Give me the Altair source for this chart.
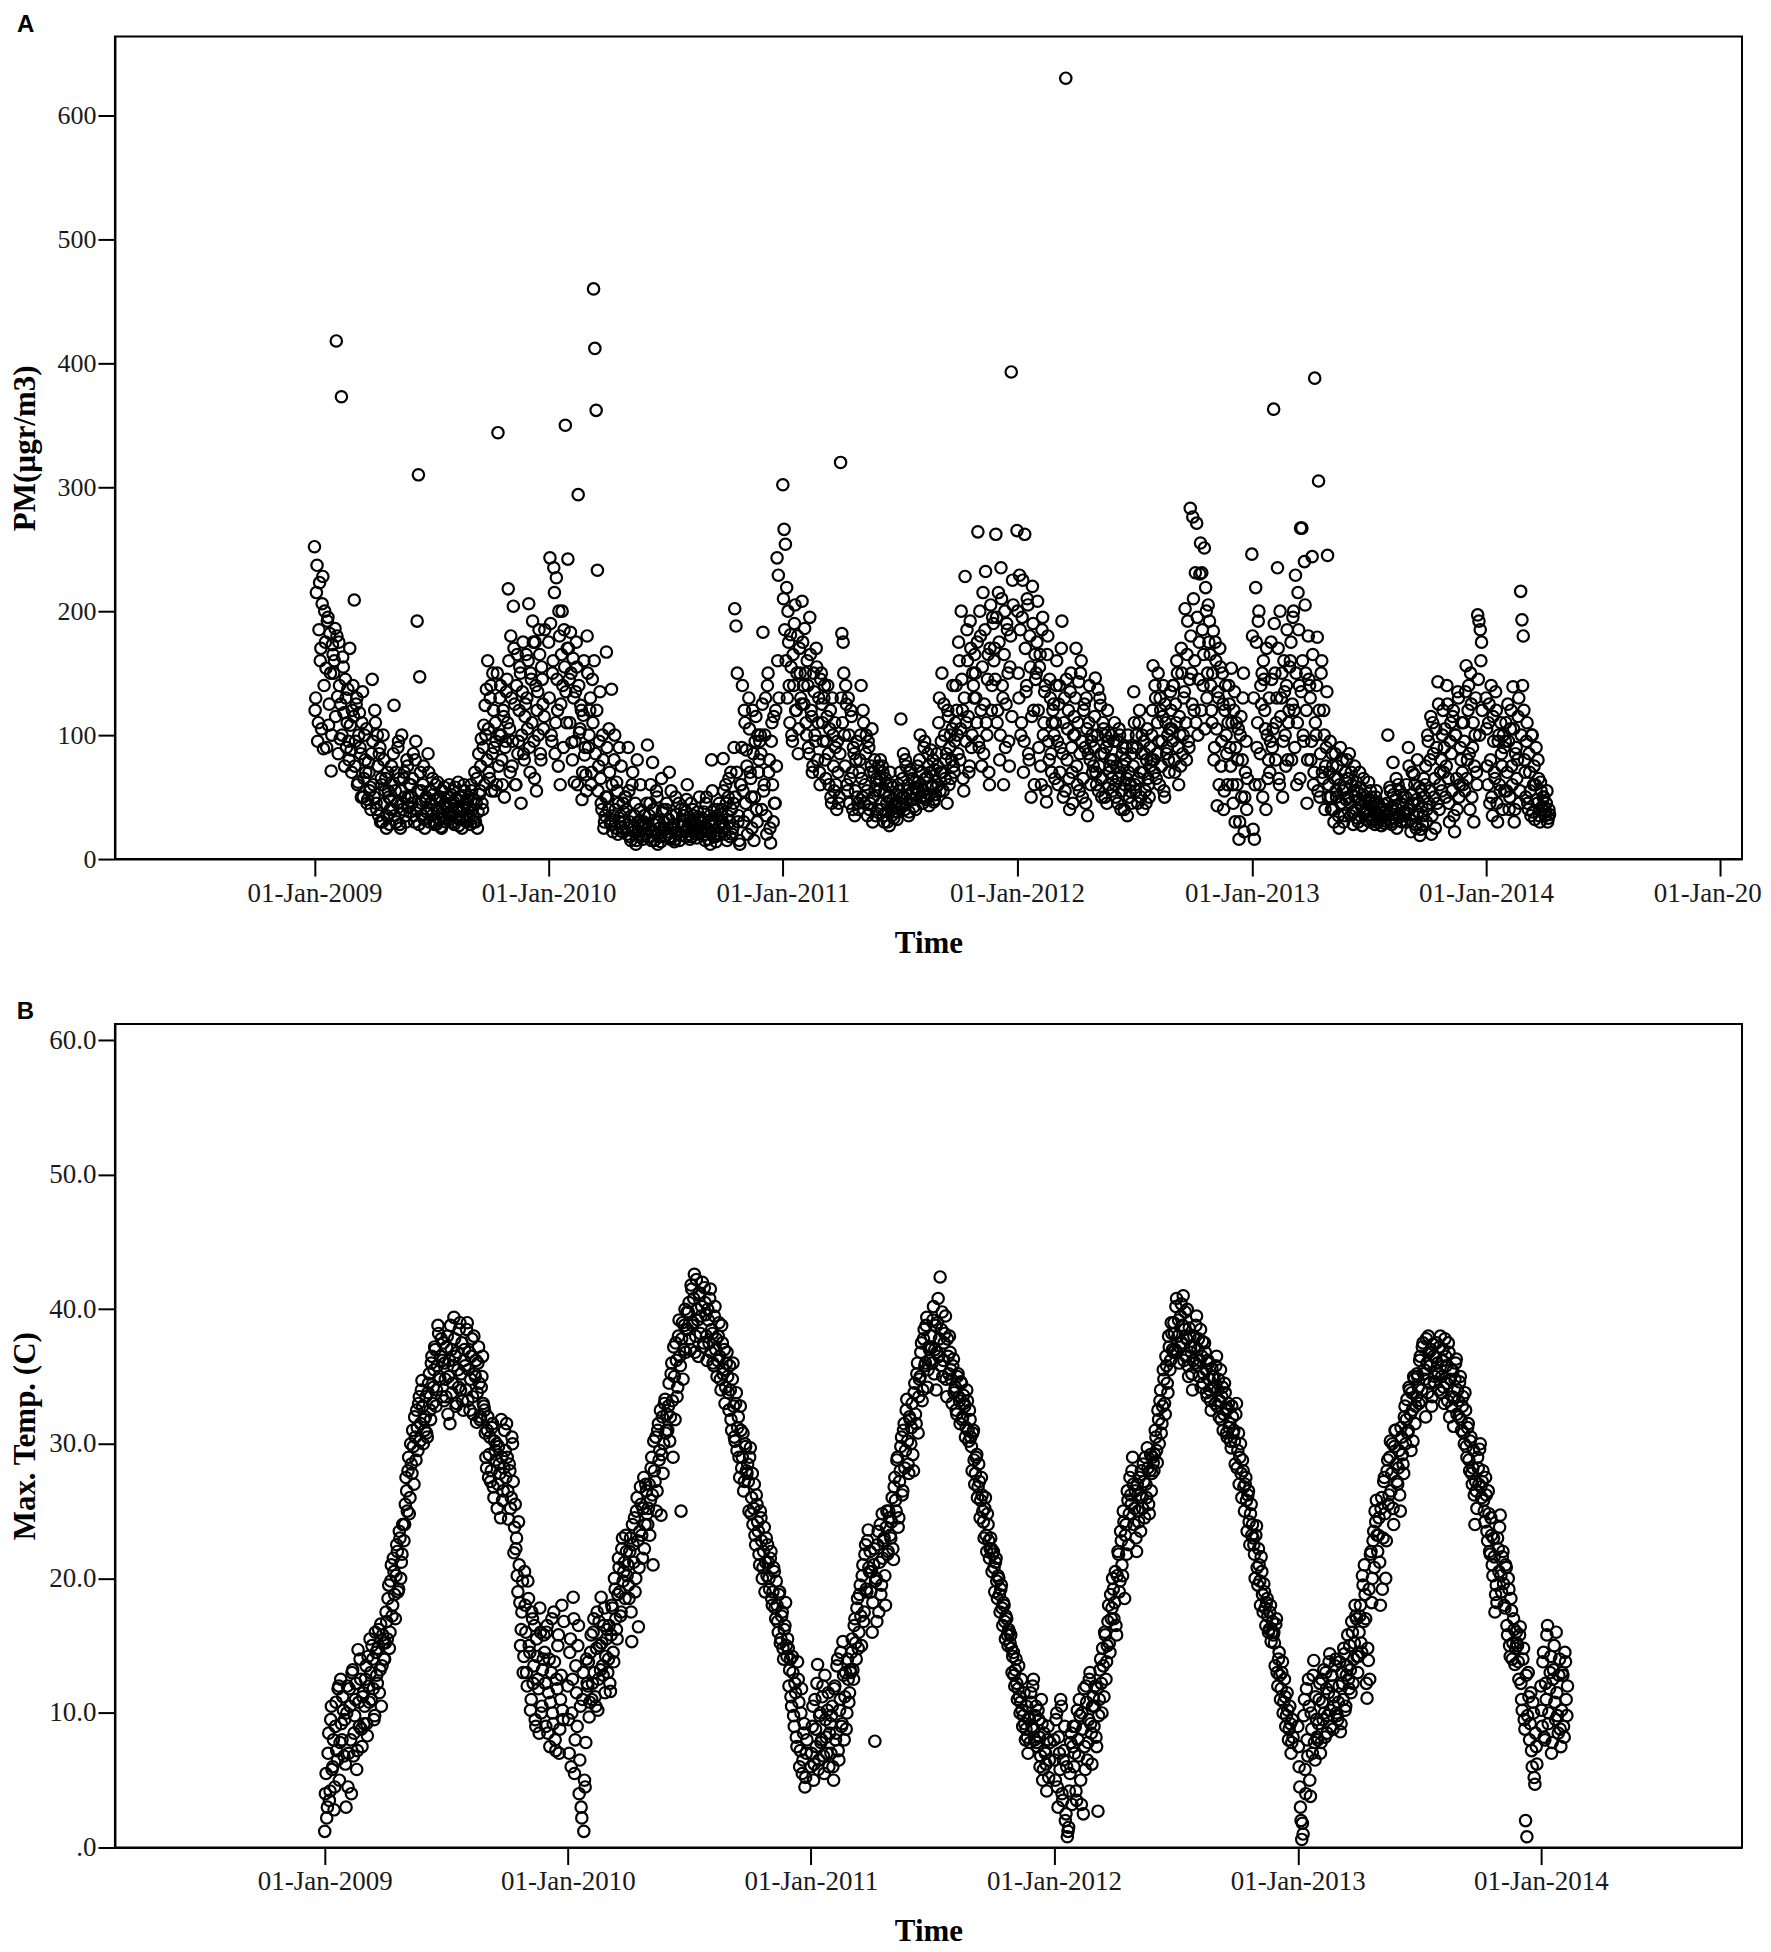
import altair as alt
import pandas as pd
from datetime import date, timedelta

# ============ Panel A: PM (µg/m3), daily readings; 15 per month on even days + 15 on odd days ============
pm_2009 = [
    [252, 130, 237, 110, 223, 170, 206, 89, 200, 154, 192, 108, 182, 71, 173],
    [150, 186, 418, 131, 175, 97, 373, 163, 118, 145, 90, 137, 80, 108, 70],
    [140, 209, 95, 130, 62, 118, 85, 110, 50, 100, 70, 45, 78, 55, 40],
    [145, 60, 120, 45, 100, 35, 90, 65, 30, 80, 55, 25, 70, 50, 40],
    [75, 40, 124, 55, 30, 90, 65, 25, 100, 45, 70, 35, 80, 50, 60],
    [60, 45, 85, 30, 95, 192, 310, 147, 55, 35, 75, 25, 50, 40, 70],
    [55, 40, 65, 30, 48, 28, 62, 38, 50, 25, 35, 58, 45, 32, 42],
    [60, 45, 35, 55, 28, 48, 40, 62, 32, 50, 25, 42, 55, 36, 45],
    [50, 35, 60, 40, 30, 70, 45, 25, 85, 55, 97, 40, 108, 124, 137],
    [160, 70, 130, 55, 150, 90, 110, 60, 344, 100, 140, 80, 120, 50, 95],
    [145, 218, 105, 180, 75, 204, 125, 60, 165, 95, 155, 45, 135, 85, 115],
    [165, 105, 206, 70, 145, 192, 95, 175, 55, 135, 185, 85, 155, 125, 115],
]
pm_2009_odd = [
    [120, 215, 95, 185, 160, 105, 228, 140, 175, 90, 195, 125, 150, 100, 165],
    [160, 115, 180, 85, 140, 125, 100, 155, 75, 130, 110, 95, 170, 88, 120],
    [115, 75, 125, 60, 100, 90, 50, 135, 65, 80, 105, 48, 70, 58, 85],
    [95, 50, 110, 40, 75, 85, 30, 60, 100, 45, 65, 35, 55, 28, 48],
    [60, 85, 35, 70, 45, 95, 28, 55, 40, 65, 50, 30, 75, 42, 38],
    [50, 65, 35, 80, 40, 55, 28, 70, 45, 60, 32, 48, 38, 85, 30],
    [45, 35, 52, 28, 60, 40, 33, 48, 26, 55, 38, 44, 30, 50, 36],
    [38, 52, 30, 46, 58, 34, 42, 27, 50, 38, 33, 60, 44, 30, 48],
    [42, 28, 55, 35, 48, 30, 65, 38, 52, 75, 45, 90, 60, 100, 80],
    [105, 65, 140, 85, 120, 55, 95, 150, 75, 130, 100, 60, 115, 90, 135],
    [110, 160, 70, 130, 95, 170, 60, 140, 85, 120, 150, 100, 175, 80, 125],
    [130, 160, 90, 150, 110, 175, 65, 140, 120, 100, 165, 80, 145, 105, 185],
]
pm_2010 = [
    [175, 243, 100, 150, 235, 85, 227, 120, 200, 60, 165, 140, 185, 350, 110],
    [242, 145, 183, 94, 162, 62, 135, 155, 294, 102, 124, 48, 116, 84, 68],
    [180, 90, 120, 60, 145, 460, 412, 362, 233, 75, 135, 45, 100, 25, 35],
    [167, 50, 105, 30, 137, 22, 80, 40, 62, 20, 90, 35, 25, 45, 30],
    [50, 20, 90, 30, 15, 60, 25, 35, 12, 80, 22, 40, 18, 28, 30],
    [35, 20, 92, 25, 45, 15, 78, 28, 22, 55, 12, 30, 18, 65, 40],
    [30, 18, 45, 22, 70, 16, 35, 25, 14, 50, 20, 28, 15, 40, 30],
    [28, 40, 18, 60, 25, 16, 45, 22, 35, 30, 20, 38, 26, 32, 22],
    [25, 38, 15, 50, 22, 30, 12, 80, 28, 40, 18, 35, 20, 45, 30],
    [40, 81, 25, 60, 15, 50, 30, 70, 20, 45, 202, 188, 150, 35, 12],
    [60, 140, 30, 110, 88, 20, 130, 70, 50, 120, 15, 95, 40, 100, 80],
    [100, 40, 183, 60, 130, 20, 150, 80, 13, 110, 30, 45, 120, 243, 229],
]
pm_2010_odd = [
    [130, 190, 95, 160, 215, 110, 145, 75, 180, 125, 200, 90, 155, 135, 170],
    [170, 110, 150, 80, 130, 95, 175, 60, 140, 105, 120, 70, 160, 90, 55],
    [150, 100, 130, 70, 110, 160, 85, 120, 55, 95, 65, 40, 80, 30, 50],
    [90, 40, 70, 28, 60, 35, 100, 25, 55, 45, 30, 75, 22, 38, 50],
    [40, 25, 55, 18, 35, 70, 22, 45, 15, 30, 20, 60, 25, 16, 35],
    [28, 45, 18, 35, 60, 22, 40, 15, 30, 50, 20, 25, 14, 38, 24],
    [25, 40, 20, 32, 18, 55, 24, 28, 16, 36, 22, 45, 19, 26, 35],
    [35, 22, 48, 26, 20, 30, 18, 40, 24, 28, 17, 34, 50, 21, 30],
    [32, 20, 45, 25, 16, 35, 22, 55, 18, 30, 14, 40, 26, 20, 36],
    [30, 55, 20, 45, 35, 65, 18, 40, 25, 90, 50, 70, 30, 15, 60],
    [90, 55, 120, 45, 75, 35, 105, 65, 25, 85, 50, 115, 30, 70, 95],
    [85, 125, 55, 100, 35, 140, 70, 25, 95, 60, 115, 45, 75, 160, 130],
]
pm_2011 = [
    [302, 266, 254, 219, 200, 140, 181, 100, 165, 190, 120, 150, 85, 170, 130],
    [208, 140, 186, 110, 160, 90, 195, 120, 70, 150, 100, 170, 80, 130, 60],
    [150, 110, 130, 80, 95, 140, 60, 120, 45, 100, 55, 90, 40, 70, 50],
    [320, 182, 175, 100, 140, 60, 130, 45, 120, 70, 90, 35, 80, 50, 40],
    [80, 140, 50, 110, 60, 100, 35, 90, 45, 75, 30, 70, 55, 65, 40],
    [55, 80, 40, 70, 30, 65, 45, 50, 27, 60, 35, 48, 42, 38, 32],
    [60, 45, 113, 50, 85, 40, 75, 55, 35, 70, 48, 65, 42, 58, 52],
    [75, 55, 100, 60, 45, 90, 65, 50, 85, 43, 70, 58, 80, 48, 52],
    [85, 60, 130, 70, 150, 55, 100, 80, 45, 115, 90, 65, 105, 75, 95],
    [140, 100, 175, 80, 200, 120, 55, 228, 110, 160, 70, 192, 90, 150, 130],
    [150, 110, 264, 90, 180, 75, 215, 125, 232, 100, 165, 60, 205, 140, 190],
    [170, 262, 110, 215, 80, 235, 140, 60, 200, 125, 185, 95, 155, 393, 225],
]
pm_2011_odd = [
    [210, 185, 160, 130, 175, 110, 155, 95, 140, 205, 120, 180, 105, 150, 125],
    [175, 125, 150, 100, 140, 85, 165, 115, 75, 135, 95, 155, 110, 70, 145],
    [125, 95, 140, 65, 115, 85, 105, 50, 130, 75, 110, 60, 95, 45, 85],
    [130, 110, 150, 75, 125, 55, 100, 65, 115, 40, 85, 55, 95, 45, 70],
    [100, 65, 120, 45, 85, 55, 95, 40, 70, 105, 50, 80, 35, 60, 75],
    [65, 45, 75, 35, 55, 60, 30, 50, 70, 40, 58, 33, 45, 52, 38],
    [55, 70, 42, 65, 50, 80, 45, 60, 38, 72, 54, 48, 62, 40, 57],
    [62, 80, 50, 70, 55, 95, 48, 66, 75, 52, 88, 60, 46, 72, 58],
    [75, 110, 55, 95, 70, 125, 65, 85, 120, 60, 100, 80, 140, 70, 110],
    [120, 85, 160, 105, 145, 65, 130, 95, 185, 115, 75, 170, 100, 140, 165],
    [130, 175, 95, 200, 120, 155, 85, 185, 110, 145, 70, 170, 120, 195, 160],
    [145, 195, 120, 175, 100, 210, 130, 165, 90, 190, 150, 75, 180, 115, 205],
]
pm_2012 = [
    [265, 150, 229, 100, 195, 70, 262, 135, 210, 85, 180, 50, 220, 120, 165],
    [150, 208, 90, 165, 60, 195, 110, 140, 46, 180, 80, 130, 70, 120, 100],
    [110, 160, 60, 140, 90, 192, 50, 130, 630, 80, 120, 40, 150, 70, 100],
    [100, 170, 60, 143, 85, 160, 50, 120, 90, 130, 35, 110, 80, 95, 70],
    [90, 146, 60, 137, 75, 124, 50, 110, 85, 100, 45, 95, 70, 80, 65],
    [80, 110, 50, 95, 65, 100, 40, 85, 75, 60, 90, 35, 70, 55, 45],
    [90, 135, 60, 100, 45, 110, 70, 85, 40, 95, 55, 80, 65, 50, 75],
    [100, 156, 70, 130, 85, 150, 60, 120, 95, 140, 50, 110, 90, 80, 105],
    [120, 95, 140, 70, 110, 150, 60, 100, 170, 85, 130, 202, 80, 192, 90],
    [283, 150, 276, 120, 231, 271, 100, 175, 255, 231, 140, 251, 219, 130, 205],
    [192, 140, 110, 184, 90, 160, 43, 130, 170, 75, 150, 40, 120, 100, 60],
    [140, 90, 154, 60, 120, 30, 110, 80, 16, 100, 50, 130, 22, 70, 40],
]
pm_2012_odd = [
    [200, 130, 185, 110, 225, 95, 170, 140, 205, 80, 155, 115, 190, 60, 145],
    [175, 120, 155, 75, 185, 100, 135, 55, 165, 95, 145, 85, 110, 125, 65],
    [140, 95, 125, 70, 170, 85, 110, 55, 145, 105, 65, 135, 90, 45, 115],
    [130, 75, 110, 55, 150, 95, 65, 125, 45, 105, 85, 140, 60, 100, 75],
    [115, 70, 100, 55, 130, 85, 65, 105, 50, 90, 120, 60, 75, 100, 55],
    [95, 60, 75, 45, 105, 70, 55, 90, 40, 80, 65, 100, 50, 60, 85],
    [75, 110, 55, 90, 65, 120, 50, 100, 70, 85, 45, 105, 60, 90, 80],
    [120, 80, 140, 65, 110, 95, 130, 75, 115, 55, 125, 85, 100, 70, 135],
    [105, 140, 80, 125, 160, 90, 115, 75, 150, 100, 135, 110, 165, 95, 145],
    [180, 125, 210, 160, 110, 195, 145, 230, 120, 185, 165, 105, 200, 150, 175],
    [165, 120, 150, 80, 175, 105, 135, 60, 155, 95, 125, 55, 140, 85, 110],
    [125, 75, 110, 45, 135, 90, 60, 105, 30, 115, 80, 150, 50, 95, 65],
]
pm_2013 = [
    [246, 24, 16, 219, 90, 192, 60, 140, 150, 160, 120, 40, 100, 80, 70],
    [175, 90, 363, 150, 110, 235, 65, 200, 130, 50, 160, 100, 140, 80, 120],
    [160, 80, 195, 120, 229, 60, 215, 140, 267, 267, 100, 240, 150, 45, 180],
    [140, 80, 244, 60, 388, 100, 179, 305, 50, 150, 70, 120, 40, 90, 245],
    [60, 95, 40, 75, 30, 85, 50, 65, 25, 90, 45, 55, 35, 70, 80],
    [50, 85, 35, 60, 28, 75, 40, 55, 30, 70, 45, 27, 65, 38, 32],
    [40, 62, 30, 50, 34, 45, 28, 55, 36, 32, 42, 27, 38, 29, 35],
    [40, 100, 32, 55, 28, 78, 36, 48, 25, 60, 34, 45, 30, 50, 38],
    [50, 30, 90, 40, 22, 70, 35, 60, 25, 80, 45, 19, 55, 28, 65],
    [60, 30, 100, 45, 80, 20, 110, 50, 25, 90, 143, 40, 70, 55, 120],
    [90, 50, 140, 65, 30, 110, 55, 120, 22, 100, 40, 130, 60, 80, 70],
    [110, 55, 156, 80, 140, 40, 125, 90, 30, 100, 70, 197, 192, 185, 175],
]
pm_2013_odd = [
    [180, 130, 60, 175, 110, 200, 85, 125, 50, 145, 105, 170, 65, 130, 95],
    [145, 105, 190, 80, 130, 170, 60, 115, 150, 95, 135, 75, 185, 110, 155],
    [175, 125, 200, 90, 150, 110, 185, 65, 135, 160, 95, 205, 120, 80, 145],
    [130, 95, 165, 70, 110, 140, 55, 120, 85, 160, 65, 100, 75, 135, 50],
    [70, 50, 85, 40, 65, 55, 75, 35, 60, 45, 80, 30, 58, 48, 65],
    [65, 45, 70, 38, 55, 50, 62, 33, 48, 58, 42, 52, 36, 46, 40],
    [48, 36, 55, 32, 42, 38, 50, 30, 45, 35, 40, 33, 44, 31, 39],
    [45, 35, 58, 30, 42, 52, 33, 65, 40, 36, 55, 31, 44, 38, 35],
    [60, 40, 75, 32, 52, 45, 68, 28, 48, 38, 58, 24, 42, 35, 50],
    [75, 40, 95, 55, 115, 35, 85, 65, 105, 45, 125, 60, 80, 100, 70],
    [105, 75, 125, 45, 95, 85, 115, 35, 100, 65, 135, 50, 90, 110, 60],
    [95, 135, 65, 120, 85, 150, 50, 110, 75, 130, 60, 145, 100, 160, 120],
]
pm_2014 = [
    [130, 75, 110, 45, 140, 35, 95, 65, 120, 30, 100, 55, 85, 40, 90],
    [95, 55, 125, 40, 105, 75, 139, 30, 85, 65, 115, 45, 216, 193, 180],
    [80, 50, 110, 40, 70, 35, 100, 60, 32, 90, 45, 65, 30, 55, 40],
    [50, 35, 45, 30, 40],
]
pm_2014_odd = [
    [105, 60, 125, 80, 50, 115, 70, 135, 45, 95, 60, 110, 75, 100, 55],
    [110, 70, 95, 50, 120, 60, 105, 40, 90, 80, 130, 55, 100, 140, 120],
    [70, 95, 45, 85, 55, 100, 38, 75, 60, 48, 80, 35, 62, 42, 50],
    [42, 38, 55, 33, 36],
]

# ============ Panel B: Max. Temp. (C), daily readings; 15 per month on even days + 15 on odd days ============
t_2009 = [
    [1.2, 5.5, 3.0, 8.5, 4.2, 10.5, 6.0, 2.8, 9.0, 7.2, 11.8, 5.0, 12.5, 8.0, 10.2],
    [9.5, 3.0, 12.0, 7.0, 10.5, 4.0, 13.2, 8.5, 11.0, 5.8, 14.7, 9.0, 12.5, 7.5, 11.5],
    [10.5, 13.5, 8.3, 12.0, 15.5, 11.0, 14.0, 9.5, 16.0, 12.8, 14.8, 11.5, 16.6, 13.5, 15.2],
    [14.0, 17.5, 15.5, 19.5, 16.0, 21.0, 18.0, 20.5, 17.0, 22.5, 19.0, 23.5, 20.0, 21.8, 24.0],
    [24.0, 27.5, 25.0, 29.0, 26.0, 28.5, 31.0, 27.0, 30.5, 32.5, 29.5, 33.5, 31.5, 34.7, 30.0],
    [31.0, 33.5, 30.5, 34.5, 32.5, 36.0, 33.0, 35.5, 37.0, 34.0, 38.8, 35.0, 36.5, 33.5, 37.5],
    [36.0, 33.5, 38.0, 35.0, 31.5, 37.0, 34.5, 39.4, 36.5, 33.0, 35.5, 38.5, 34.0, 37.5, 32.5],
    [37.0, 34.0, 39.0, 35.5, 32.5, 36.5, 33.5, 38.0, 35.0, 31.6, 36.0, 34.5, 32.0, 35.0, 33.0],
    [32.5, 29.0, 31.0, 27.5, 30.5, 28.0, 31.5, 26.0, 29.5, 30.0, 27.0, 28.5, 24.5, 29.0, 26.5],
    [31.0, 27.5, 29.0, 24.4, 28.0, 26.0, 30.0, 21.9, 25.5, 23.0, 19.0, 21.0, 15.0, 17.5, 13.0],
    [20.5, 16.0, 12.0, 18.5, 14.5, 11.0, 17.0, 13.5, 9.5, 15.5, 12.5, 8.5, 16.0, 10.5, 14.0],
    [14.5, 9.0, 16.5, 11.5, 7.5, 13.0, 10.0, 17.5, 8.0, 12.5, 15.0, 7.0, 11.0, 18.0, 9.5],
]
t_2009_odd = [
    [4.0, 2.2, 7.0, 3.5, 9.5, 5.8, 8.0, 4.5, 10.8, 6.5, 12.0, 7.8, 9.2, 11.2, 6.8],
    [6.2, 10.0, 4.5, 11.8, 8.0, 13.0, 6.8, 9.8, 12.2, 7.2, 10.8, 14.0, 8.8, 11.2, 9.2],
    [12.5, 9.2, 14.2, 10.8, 13.0, 15.0, 11.8, 9.8, 14.5, 12.2, 16.2, 13.2, 10.5, 15.8, 14.0],
    [15.2, 16.8, 18.5, 14.8, 19.8, 17.2, 21.5, 18.8, 20.2, 22.0, 19.2, 23.0, 21.2, 24.0, 22.8],
    [25.5, 26.5, 28.0, 24.8, 30.0, 27.8, 29.8, 32.0, 28.8, 31.2, 33.0, 30.2, 34.0, 32.8, 31.8],
    [32.0, 30.8, 33.8, 35.2, 31.8, 36.5, 34.2, 37.2, 32.8, 35.8, 38.2, 34.8, 37.8, 36.2, 33.2],
    [34.8, 37.2, 32.2, 36.2, 38.8, 33.8, 35.8, 37.8, 32.8, 36.8, 34.2, 39.0, 35.2, 33.2, 36.2],
    [35.8, 38.5, 33.2, 36.8, 34.8, 37.8, 32.2, 35.2, 36.2, 33.8, 37.2, 31.8, 34.2, 36.5, 32.8],
    [30.8, 28.2, 32.0, 29.2, 27.2, 31.2, 26.8, 30.2, 28.8, 25.2, 29.8, 27.8, 31.8, 25.8, 28.2],
    [29.5, 31.5, 26.5, 28.5, 25.2, 30.5, 27.2, 23.8, 22.2, 20.2, 24.2, 18.2, 16.2, 19.8, 14.2],
    [18.0, 13.0, 19.8, 15.0, 10.2, 17.5, 12.2, 16.5, 9.0, 14.2, 11.8, 17.8, 10.0, 13.2, 15.8],
    [12.2, 16.0, 8.5, 14.0, 10.8, 17.0, 9.2, 13.8, 7.2, 11.8, 15.8, 8.8, 12.8, 10.2, 16.8],
]
t_2010 = [
    [12.0, 7.0, 15.5, 10.0, 18.6, 5.5, 13.5, 9.0, 16.5, 6.5, 3.0, 11.0, 1.2, 4.5, 14.0],
    [12.0, 9.7, 14.5, 11.0, 16.0, 13.0, 10.5, 17.5, 12.5, 15.0, 18.6, 13.5, 16.5, 11.5, 15.5],
    [13.0, 16.5, 11.6, 18.0, 14.5, 20.0, 17.0, 15.5, 21.5, 19.0, 17.5, 23.0, 20.5, 18.5, 22.0],
    [21.0, 18.5, 23.0, 15.3, 22.5, 24.5, 20.0, 26.0, 16.4, 23.5, 25.5, 21.5, 27.5, 24.0, 26.5],
    [24.0, 27.0, 25.8, 29.0, 21.0, 28.0, 30.5, 26.5, 31.5, 29.5, 24.7, 32.0, 30.0, 33.3, 31.0],
    [31.0, 34.5, 32.0, 36.0, 29.0, 35.0, 37.5, 33.5, 38.0, 36.5, 25.0, 39.0, 37.0, 40.0, 38.5],
    [38.5, 40.5, 37.0, 41.5, 39.0, 42.6, 38.0, 40.0, 36.5, 41.0, 39.5, 42.0, 37.5, 40.5, 38.0],
    [40.0, 37.5, 41.5, 38.5, 36.0, 39.5, 37.0, 35.0, 38.0, 36.5, 34.0, 37.5, 35.5, 33.0, 36.0],
    [35.0, 32.5, 34.0, 31.0, 36.0, 30.5, 33.0, 29.5, 32.0, 27.5, 31.0, 29.0, 26.5, 30.0, 28.0],
    [28.5, 25.0, 29.7, 26.0, 24.0, 27.0, 22.5, 25.5, 23.5, 21.0, 24.5, 20.0, 22.0, 19.0, 23.0],
    [22.5, 20.0, 21.5, 18.5, 19.0, 20.5, 17.0, 18.0, 16.0, 19.0, 15.5, 17.5, 14.0, 16.5, 15.0],
    [15.5, 12.0, 14.0, 10.5, 13.0, 9.0, 11.5, 7.5, 12.5, 6.0, 10.0, 5.5, 8.5, 4.5, 7.0],
]
t_2010_odd = [
    [9.5, 14.5, 6.0, 12.5, 17.0, 8.0, 11.5, 15.0, 4.0, 10.5, 2.2, 13.0, 5.0, 7.8, 12.2],
    [13.8, 10.8, 15.8, 12.2, 17.0, 11.2, 14.8, 10.2, 16.8, 13.2, 15.2, 12.8, 17.8, 14.2, 16.2],
    [14.0, 12.2, 15.8, 17.8, 13.8, 19.2, 16.2, 18.8, 20.8, 17.2, 22.2, 19.8, 21.2, 23.2, 20.2],
    [19.5, 22.0, 17.5, 24.0, 21.2, 19.0, 25.0, 22.8, 20.8, 26.8, 23.2, 25.2, 22.2, 27.0, 24.8],
    [25.2, 23.2, 28.2, 26.2, 30.2, 27.2, 25.0, 31.0, 28.8, 32.5, 29.2, 27.8, 33.0, 30.8, 32.2],
    [32.8, 30.2, 35.2, 33.2, 37.2, 31.8, 36.2, 34.2, 39.2, 35.8, 37.8, 34.8, 38.8, 36.8, 39.8],
    [39.8, 37.8, 41.8, 38.8, 40.8, 36.8, 42.2, 39.2, 41.2, 38.2, 40.2, 37.2, 41.6, 39.6, 36.2],
    [39.2, 40.8, 36.8, 38.2, 35.8, 40.2, 37.8, 36.2, 39.0, 34.8, 38.8, 35.2, 37.0, 34.2, 36.8],
    [33.8, 35.8, 31.8, 34.8, 32.8, 30.2, 33.8, 31.2, 29.0, 32.8, 28.2, 30.8, 27.2, 29.8, 27.8],
    [27.2, 29.0, 24.8, 27.8, 25.2, 23.2, 26.2, 24.2, 21.8, 25.0, 22.8, 20.8, 23.8, 21.2, 20.2],
    [21.2, 19.2, 22.0, 18.0, 20.8, 17.8, 19.8, 16.8, 18.8, 15.2, 17.2, 14.8, 16.2, 18.2, 14.2],
    [14.8, 13.2, 11.2, 14.2, 9.8, 12.2, 8.2, 13.8, 10.8, 7.2, 11.8, 6.5, 9.2, 5.2, 8.0],
]
t_2011 = [
    [6.0, 9.0, 5.0, 11.0, 7.5, 13.6, 6.5, 10.0, 8.0, 12.0, 5.5, 9.5, 7.0, 11.5, 8.5],
    [7.0, 10.5, 5.0, 12.0, 8.5, 14.0, 6.5, 11.0, 9.0, 15.3, 8.0, 13.0, 10.0, 12.5, 11.5],
    [13.0, 15.5, 12.5, 17.0, 14.0, 18.5, 16.0, 19.5, 15.0, 21.0, 17.5, 22.5, 19.0, 23.6, 20.5],
    [19.0, 16.0, 21.0, 7.9, 20.0, 22.5, 17.5, 24.0, 19.5, 21.5, 23.0, 18.0, 25.0, 22.0, 24.5],
    [23.0, 26.0, 21.4, 27.5, 25.0, 29.0, 24.5, 28.0, 30.5, 26.5, 31.5, 29.5, 33.3, 28.5, 32.0],
    [30.0, 33.0, 28.0, 34.5, 31.5, 36.0, 33.5, 35.0, 37.5, 34.0, 38.5, 36.0, 39.4, 35.5, 37.0],
    [38.0, 36.0, 40.2, 37.0, 34.0, 39.0, 36.5, 42.4, 38.5, 35.0, 37.5, 39.5, 33.5, 36.5, 38.0],
    [35.5, 33.0, 36.3, 34.0, 32.5, 35.0, 33.5, 31.5, 34.5, 32.0, 33.0, 30.5, 34.0, 31.0, 32.5],
    [30.5, 28.0, 31.0, 27.0, 29.0, 26.0, 28.5, 24.5, 27.5, 25.0, 23.0, 26.0, 22.0, 24.0, 21.5],
    [23.0, 20.5, 22.0, 19.0, 21.5, 18.5, 20.0, 17.5, 19.5, 16.5, 18.0, 15.5, 17.0, 15.0, 16.0],
    [15.8, 13.0, 14.5, 12.0, 14.0, 11.0, 13.5, 10.0, 12.5, 9.0, 11.5, 8.0, 10.5, 7.0, 9.5],
    [11.5, 9.0, 12.5, 8.0, 10.5, 7.5, 9.5, 6.0, 11.0, 5.0, 8.5, 7.0, 4.2, 9.0, 6.5],
]
t_2011_odd = [
    [7.0, 10.5, 6.2, 8.8, 12.2, 5.8, 9.8, 7.8, 11.2, 6.8, 12.8, 8.2, 10.2, 6.0, 9.2],
    [9.8, 6.0, 11.8, 8.0, 13.5, 7.2, 10.2, 14.5, 9.2, 12.8, 11.2, 8.8, 14.0, 10.8, 13.2],
    [14.5, 13.2, 16.5, 15.2, 17.8, 14.8, 18.8, 17.2, 20.2, 16.8, 21.8, 19.2, 22.8, 20.8, 22.0],
    [20.5, 18.2, 22.2, 19.8, 16.8, 23.5, 21.2, 18.8, 24.8, 22.8, 20.2, 23.8, 21.8, 25.0, 23.2],
    [24.2, 22.2, 26.8, 25.8, 28.8, 23.8, 27.2, 29.8, 26.2, 31.0, 28.2, 32.5, 30.2, 27.8, 31.8],
    [31.2, 29.2, 33.8, 32.2, 35.2, 30.8, 34.8, 36.8, 33.2, 37.8, 35.8, 38.8, 34.2, 37.2, 36.2],
    [37.2, 39.2, 35.2, 38.8, 36.8, 40.8, 37.8, 35.8, 39.8, 36.2, 38.2, 34.8, 37.8, 35.2, 36.8],
    [34.8, 35.8, 33.8, 34.2, 32.2, 35.2, 33.2, 34.6, 31.8, 33.6, 32.8, 31.2, 33.2, 30.2, 31.8],
    [29.8, 30.8, 28.8, 27.8, 29.2, 26.8, 27.2, 25.8, 26.2, 24.2, 25.2, 23.2, 24.8, 22.8, 22.2],
    [22.2, 21.8, 20.8, 21.2, 19.8, 20.2, 18.8, 19.2, 17.8, 18.2, 16.8, 17.2, 15.8, 16.2, 15.2],
    [14.8, 14.2, 12.8, 13.2, 12.2, 11.8, 11.2, 10.8, 10.2, 9.8, 9.2, 8.8, 8.2, 9.6, 7.8],
    [10.8, 12.0, 8.8, 9.8, 7.8, 10.2, 8.2, 6.8, 9.2, 5.8, 7.2, 6.2, 8.0, 5.2, 7.8],
]
t_2012 = [
    [8.0, 5.0, 10.0, 3.0, 7.0, 11.0, 4.0, 6.5, 9.0, 2.5, 0.8, 1.5, 5.5, 8.5, 7.5],
    [6.0, 9.0, 3.5, 8.0, 11.0, 5.0, 10.0, 2.5, 7.5, 12.0, 6.5, 9.5, 13.0, 8.5, 10.5],
    [9.0, 12.0, 7.5, 2.7, 11.0, 14.0, 10.0, 13.5, 16.0, 12.5, 15.0, 18.0, 14.5, 17.0, 20.0],
    [17.0, 20.5, 15.8, 22.0, 19.0, 23.5, 21.0, 25.0, 18.5, 24.0, 26.5, 22.5, 27.5, 25.5, 29.0],
    [24.0, 26.5, 22.0, 25.0, 27.5, 23.5, 26.0, 28.5, 24.5, 27.0, 29.7, 25.5, 28.0, 26.5, 29.0],
    [28.0, 31.0, 29.5, 32.5, 30.0, 34.0, 31.5, 35.5, 33.0, 36.5, 34.5, 38.0, 35.5, 39.0, 37.0],
    [39.0, 37.0, 40.8, 38.0, 36.0, 39.5, 37.5, 41.0, 38.5, 36.5, 40.0, 35.0, 38.0, 36.8, 34.0],
    [38.0, 36.0, 39.5, 37.0, 35.0, 38.5, 36.5, 34.5, 37.5, 35.5, 33.5, 36.0, 34.0, 32.5, 35.0],
    [35.0, 33.0, 36.5, 34.0, 32.0, 35.5, 33.5, 31.0, 34.5, 32.5, 30.5, 33.0, 31.5, 29.7, 32.0],
    [31.0, 28.5, 33.0, 29.5, 27.0, 30.0, 26.0, 28.0, 25.0, 27.5, 23.5, 26.5, 22.5, 25.5, 24.0],
    [22.5, 20.0, 23.9, 19.5, 21.0, 18.0, 20.5, 17.5, 19.0, 16.5, 18.5, 16.0, 17.5, 15.3, 16.8],
    [16.0, 13.5, 17.0, 12.0, 14.5, 11.0, 13.0, 10.0, 12.5, 9.0, 11.5, 8.0, 10.5, 7.0, 9.5],
]
t_2012_odd = [
    [6.5, 9.5, 4.5, 8.2, 5.8, 10.5, 3.5, 7.2, 2.0, 6.0, 1.2, 4.2, 7.8, 3.2, 9.0],
    [7.0, 4.2, 10.2, 6.8, 9.8, 3.2, 8.8, 11.8, 5.8, 10.8, 7.8, 12.5, 9.2, 6.2, 11.2],
    [10.5, 8.2, 11.8, 9.8, 13.2, 12.2, 14.8, 11.2, 15.8, 13.8, 16.8, 15.2, 18.8, 17.8, 19.2],
    [18.2, 16.5, 20.2, 21.8, 19.8, 22.8, 20.2, 24.2, 23.2, 21.8, 25.8, 24.8, 26.2, 28.0, 27.0],
    [25.2, 23.0, 27.0, 24.2, 26.2, 28.0, 25.2, 27.2, 29.0, 26.0, 28.2, 24.8, 29.2, 27.8, 28.6],
    [29.2, 30.5, 28.6, 31.8, 33.2, 30.8, 32.8, 34.8, 32.2, 35.8, 33.8, 37.2, 36.2, 38.2, 36.8],
    [38.2, 40.2, 36.8, 39.2, 37.2, 40.4, 38.8, 36.2, 39.8, 37.8, 35.8, 38.6, 37.2, 35.2, 36.2],
    [37.2, 38.8, 35.8, 37.8, 36.2, 34.2, 37.6, 35.2, 36.8, 33.8, 36.2, 34.8, 33.2, 35.6, 34.2],
    [34.2, 35.8, 32.8, 34.8, 33.2, 31.8, 34.2, 32.2, 33.8, 30.8, 32.6, 31.2, 30.2, 32.8, 30.8],
    [30.2, 32.2, 28.2, 30.8, 29.0, 27.8, 28.8, 26.8, 27.0, 25.8, 26.2, 24.2, 24.8, 23.2, 23.0],
    [21.8, 23.2, 20.8, 22.2, 19.8, 21.6, 18.8, 19.6, 17.8, 18.2, 17.2, 16.2, 18.0, 16.0, 15.8],
    [15.2, 16.6, 13.0, 14.0, 12.8, 11.8, 13.8, 10.8, 11.2, 9.8, 10.2, 8.8, 9.2, 7.8, 8.2],
]
t_2013 = [
    [9.0, 6.0, 3.0, 0.6, 1.0, 11.0, 4.0, 8.0, 12.5, 5.0, 10.0, 7.0, 13.9, 6.5, 9.5],
    [8.0, 11.0, 7.0, 12.5, 9.5, 10.0, 13.0, 8.5, 11.5, 14.4, 9.0, 12.0, 10.5, 13.5, 10.0],
    [9.5, 12.0, 8.6, 13.0, 11.0, 14.4, 10.5, 13.5, 12.5, 15.0, 11.5, 16.0, 14.0, 18.0, 17.0],
    [13.0, 16.0, 18.0, 14.5, 19.5, 21.0, 17.0, 11.1, 13.9, 12.5, 22.0, 20.0, 23.5, 25.0, 25.8],
    [22.0, 24.5, 18.0, 26.0, 23.0, 27.5, 20.0, 28.0, 25.5, 29.0, 26.5, 30.0, 24.0, 31.0, 28.5],
    [27.0, 29.5, 25.0, 30.5, 28.5, 32.0, 30.0, 33.3, 31.0, 34.0, 29.5, 32.5, 35.0, 31.5, 33.5],
    [35.0, 33.0, 36.5, 34.0, 37.5, 35.5, 32.0, 36.0, 38.0, 34.5, 37.0, 33.5, 36.5, 35.0, 37.5],
    [36.0, 34.0, 38.0, 35.0, 37.0, 33.0, 36.5, 34.5, 37.5, 32.0, 35.5, 33.5, 31.3, 34.8, 36.3],
    [34.0, 32.0, 35.0, 31.0, 33.5, 30.0, 32.5, 29.0, 31.5, 28.0, 30.5, 27.0, 29.5, 24.0, 26.5],
    [29.0, 27.0, 30.0, 26.0, 28.0, 25.0, 27.5, 23.5, 26.5, 22.0, 24.5, 21.0, 23.0, 17.5, 19.5],
    [23.0, 20.5, 24.7, 19.0, 22.0, 18.0, 21.0, 16.5, 20.0, 15.0, 18.5, 14.0, 17.0, 13.6, 16.0],
    [15.0, 12.5, 16.4, 11.0, 14.0, 9.5, 2.0, 0.8, 13.0, 8.0, 11.5, 6.0, 10.0, 4.7, 7.5],
]
t_2013_odd = [
    [7.5, 4.5, 2.0, 1.8, 9.8, 5.8, 11.8, 6.8, 10.5, 3.8, 8.8, 12.8, 7.8, 11.2, 8.2],
    [9.2, 12.2, 7.8, 10.8, 13.2, 8.2, 11.8, 9.8, 13.8, 10.2, 12.8, 8.8, 11.2, 14.0, 9.8],
    [10.8, 13.8, 9.2, 12.2, 14.8, 10.2, 12.8, 15.8, 11.8, 13.2, 16.8, 12.2, 15.2, 17.2, 14.2],
    [14.2, 17.2, 15.2, 20.2, 16.8, 18.8, 12.2, 14.8, 19.2, 21.8, 18.2, 22.8, 20.8, 24.2, 23.2],
    [23.2, 21.2, 25.2, 19.2, 27.2, 24.8, 22.8, 28.8, 26.2, 30.2, 27.8, 25.2, 29.8, 31.0, 27.2],
    [28.2, 26.2, 31.2, 29.2, 27.8, 32.8, 31.8, 30.8, 34.2, 32.2, 33.8, 30.2, 34.8, 32.8, 35.2],
    [34.2, 36.2, 33.2, 37.2, 35.2, 34.8, 37.8, 33.8, 36.8, 35.8, 32.8, 37.4, 34.6, 36.4, 35.4],
    [35.2, 37.2, 33.8, 36.2, 34.2, 37.8, 35.8, 33.2, 36.8, 34.8, 32.8, 35.4, 33.4, 36.0, 32.2],
    [33.2, 34.6, 31.8, 32.8, 30.8, 33.8, 29.8, 31.2, 28.8, 30.2, 27.8, 28.2, 26.2, 27.2, 25.2],
    [28.2, 29.6, 26.8, 27.2, 25.8, 24.2, 26.2, 22.8, 24.8, 21.8, 23.2, 20.2, 21.6, 18.8, 18.2],
    [22.2, 23.8, 20.2, 21.6, 19.6, 17.8, 20.8, 15.8, 19.2, 14.2, 17.6, 15.2, 16.2, 14.8, 15.2],
    [13.8, 15.8, 12.2, 10.2, 14.8, 8.8, 12.8, 9.8, 11.2, 9.2, 7.2, 10.8, 5.2, 8.5, 6.2],
]
t_2014 = [
    [12.0, 9.0, 14.5, 8.0, 11.0, 16.5, 10.0, 13.0, 7.0, 12.5, 15.0, 9.5, 11.5, 8.5, 14.0],
    [7.5, 13.0, 9.0, 14.5, 11.0, 12.0],
]
t_2014_odd = [
    [10.2, 13.8, 8.2, 12.2, 15.8, 9.2, 11.8, 14.2, 7.8, 13.2, 10.8, 16.0, 9.8, 12.8, 8.8],
    [10.2, 12.8, 8.2, 13.8, 9.8],
]

pm_years = [(2009, pm_2009, pm_2009_odd), (2010, pm_2010, pm_2010_odd),
            (2011, pm_2011, pm_2011_odd), (2012, pm_2012, pm_2012_odd),
            (2013, pm_2013, pm_2013_odd), (2014, pm_2014, pm_2014_odd)]
t_years = [(2009, t_2009, t_2009_odd), (2010, t_2010, t_2010_odd),
           (2011, t_2011, t_2011_odd), (2012, t_2012, t_2012_odd),
           (2013, t_2013, t_2013_odd), (2014, t_2014, t_2014_odd)]

pm_ticks = [0, 100, 200, 300, 400, 500, 600]
t_ticks = [0, 10, 20, 30, 40, 50, 60]


def to_frame(year_lists):
    rows = []
    for year, even_months, odd_months in year_lists:
        start = date(year, 1, 1)
        for offset, months in ((0, even_months), (1, odd_months)):
            vals = [v for m in months for v in m]
            for i, v in enumerate(vals):
                d = start + timedelta(days=2 * i + offset)
                rows.append({"date": d.isoformat(), "value": v})
    return pd.DataFrame(rows)


pm_df = to_frame(pm_years)
t_df = to_frame(t_years)

SERIF = "Liberation Serif"
pt = dict(filled=False, shape="circle", size=130, strokeWidth=2.2,
          color="black", opacity=1)


def dt(y, m, d):
    return alt.DateTime(year=y, month=m, date=d, utc=True)


pm_chart = alt.Chart(pm_df).mark_point(**pt).encode(
    x=alt.X(
        "date:T",
        scale=alt.Scale(type="utc", domain=[dt(2008, 2, 25), dt(2015, 2, 4)], nice=False),
        axis=alt.Axis(
            title="Time",
            titlePadding=22,
            values=[dt(y, 1, 1) for y in range(2009, 2016)],
            format="%d-%b-%Y",
            labelExpr="utcyear(datum.value) == 2015 ? '01-Jan-20' : datum.label",
            labelOffset={"condition": {"test": "utcyear(datum.value) == 2015", "value": -13}, "value": 0},
        ),
    ),
    y=alt.Y(
        "value:Q",
        scale=alt.Scale(domain=[0, 663.6], nice=False, zero=True),
        axis=alt.Axis(title="PM(µgr/m3)", values=pm_ticks, format="d", labelFontSize=26,
                      titlePadding=15),
    ),
).properties(
    width=1628, height=823,
    title=alt.TitleParams("A", anchor="start", frame="bounds", font="Liberation Sans",
                          fontSize=24, fontWeight="bold", color="black", offset=0, dx=7),
)

t_chart = alt.Chart(t_df).mark_point(**pt).encode(
    x=alt.X(
        "date:T",
        scale=alt.Scale(type="utc", domain=[dt(2008, 2, 21), dt(2014, 10, 30)], nice=False),
        axis=alt.Axis(
            title="Time",
            titlePadding=22,
            values=[dt(y, 1, 1) for y in range(2009, 2015)],
            format="%d-%b-%Y",
        ),
    ),
    y=alt.Y(
        "value:Q",
        scale=alt.Scale(domain=[0, 61.2], nice=False, zero=True),
        axis=alt.Axis(title="Max. Temp. (C)", values=t_ticks, titlePadding=7,
                      labelExpr="datum.value == 0 ? '.0' : format(datum.value, '.1f')"),
    ),
).properties(
    width=1628, height=824,
    title=alt.TitleParams("B", anchor="start", frame="bounds", font="Liberation Sans",
                          fontSize=24, fontWeight="bold", color="black", offset=0, dx=7),
)

chart = alt.vconcat(pm_chart, t_chart, spacing=40).properties(
    padding={"left": 0, "top": 3, "right": 0, "bottom": 0},
    background="white",
).configure_view(
    stroke="black", strokeWidth=2,
).configure_axis(
    grid=False,
    domainColor="black", domainWidth=2,
    tickColor="black", tickWidth=2, tickSize=17,
    labelFont=SERIF, labelFontSize=27, labelColor="#1a1a1a", labelPadding=4,
    titleFont=SERIF, titleFontSize=31, titleFontWeight="bold", titleColor="black",
).configure_axisY(
    labelPadding=2,
)

chart.save("out.html", embed_options={"renderer": "svg", "actions": False})
